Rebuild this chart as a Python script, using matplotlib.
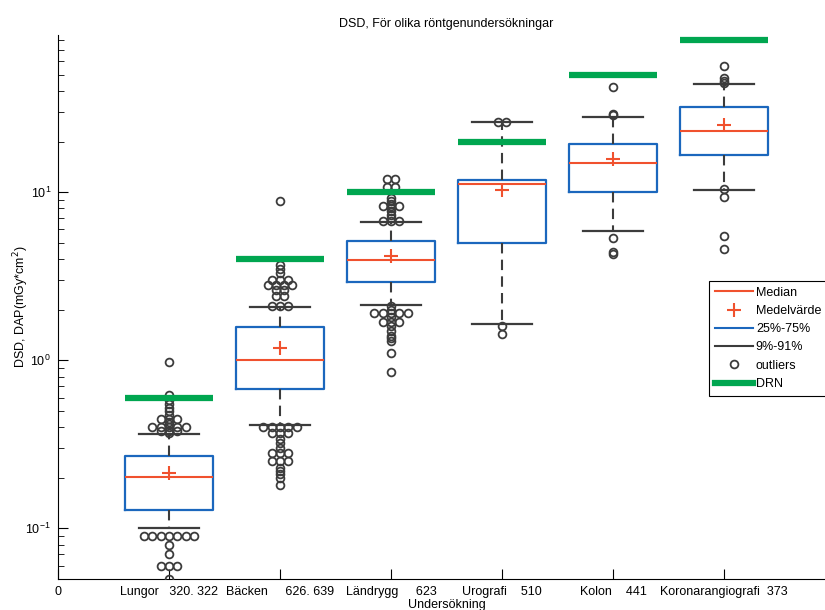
import matplotlib.pyplot as plt
from matplotlib.lines import Line2D
import numpy as np

plt.rcParams['font.family'] = ['Liberation Sans', 'DejaVu Sans']

# Undersökningar (antal i etiketten)
CATEGORIES = ["Lungor   320. 322", "Bäcken     626. 639", "Ländrygg     623",
              "Urografi    510", "Kolon    441", "Koronarangiografi  373"]

# Percentiler per undersökning
P09 = [0.100, 0.412, 2.12, 1.65, 5.86, 10.3]
Q1 = [0.129, 0.672, 2.91, 4.95, 10.0, 16.7]
MEDIAN = [0.201, 1.0, 3.94, 11.1, 14.9, 23.2]
Q3 = [0.269, 1.58, 5.13, 11.8, 19.3, 32.2]
P91 = [0.366, 2.08, 6.6, 26.2, 28.1, 44.0]
MEAN = [0.214, 1.19, 4.18, 10.3, 15.8, 25.0]
DRN = [0.6, 4.0, 10.0, 20.0, 50.0, 80.0]

OUTLIERS = [
    [0.97, 0.62, 0.58, 0.55, 0.52, 0.50, 0.47, 0.45, 0.45, 0.45, 0.43, 0.42,
     0.40, 0.40, 0.40, 0.40, 0.40, 0.38, 0.38, 0.38, 0.37,
     0.09, 0.09, 0.09, 0.09, 0.09, 0.09, 0.09, 0.08, 0.07, 0.06, 0.06, 0.06, 0.05],
    [8.8, 3.7, 3.5, 3.3, 3.0, 3.0, 3.0, 2.8, 2.8, 2.8, 2.8, 2.6, 2.6, 2.4, 2.4,
     2.1, 2.1, 2.1,
     0.40, 0.40, 0.40, 0.40, 0.40, 0.37, 0.37, 0.37, 0.34, 0.32, 0.30,
     0.28, 0.28, 0.28, 0.25, 0.25, 0.25, 0.23, 0.22, 0.21, 0.20, 0.18],
    [12.0, 12.0, 10.8, 10.8, 9.2, 8.9, 8.5, 8.3, 8.3, 8.3, 8.0, 7.7, 7.3, 7.0,
     6.7, 6.7, 6.7,
     2.1, 2.0, 1.9, 1.9, 1.9, 1.9, 1.9, 1.8, 1.7, 1.7, 1.7, 1.6, 1.5, 1.4,
     1.35, 1.3, 1.1, 0.85],
    [26.2, 26.2, 1.59, 1.44],
    [42.0, 29.0, 28.6, 5.35, 4.4, 4.3],
    [56.5, 47.5, 46.0, 44.5, 10.4, 9.3, 5.5, 4.62],
]

RED = "#f0512e"
BLUE = "#1b67bd"
DARK = "#3c3c3c"
GREEN = "#00a650"

fig = plt.figure(figsize=(8.25, 6.1), dpi=100)
ax = fig.add_axes([58 / 825, 31 / 610, 777 / 825, 544 / 610])

positions = np.arange(1, len(CATEGORIES) + 1)
stats = [dict(med=m, q1=a, q3=b, whislo=lo, whishi=hi, mean=mn, fliers=[])
         for m, a, b, lo, hi, mn in zip(MEDIAN, Q1, Q3, P09, P91, MEAN)]

ax.bxp(stats, positions=positions, widths=0.8, capwidths=0.54,
       showmeans=True, showfliers=False,
       boxprops=dict(color=BLUE, linewidth=1.6),
       medianprops=dict(color=RED, linewidth=1.5),
       whiskerprops=dict(color=DARK, linewidth=1.5, linestyle=(0, (5, 3))),
       capprops=dict(color=DARK, linewidth=1.6),
       meanprops=dict(marker='+', markeredgecolor=RED, markersize=10,
                      markeredgewidth=1.5))

# outliers: lika värden sprids ut i sidled
for pos, vals in zip(positions, OUTLIERS):
    vals = np.asarray(vals, dtype=float)
    xs = np.empty_like(vals)
    for v in np.unique(vals):
        idx = np.where(vals == v)[0]
        xs[idx] = pos + (np.arange(len(idx)) - (len(idx) - 1) / 2) * 0.075
    ax.plot(xs, vals, 'o', mfc='none', mec=DARK, ms=5.6, mew=1.3, zorder=3)

ax.hlines(DRN, positions - 0.4, positions + 0.4, colors=GREEN, linewidth=4.5, zorder=4)

ax.set_yscale('log')
ax.set_ylim(0.05, 86)
ax.set_xlim(0, 7)
ax.set_xticks(np.concatenate([[0], positions]))
ax.set_xticklabels(["0"] + CATEGORIES)
ax.tick_params(which='both', direction='in', labelsize=9)
ax.tick_params(axis='x', length=7, pad=5)
ax.tick_params(axis='y', which='major', length=7, pad=5)
ax.tick_params(axis='y', which='minor', length=4)
ax.spines['top'].set_visible(False)
ax.spines['right'].set_visible(False)

ax.set_title("DSD, För olika röntgenundersökningar", fontsize=9, pad=6)
ax.set_xlabel("Undersökning", fontsize=9, labelpad=1)
ax.set_ylabel("DSD, DAP(mGy*cm$^2$)", fontsize=9)
ax.yaxis.set_label_coords(-0.035, 0.5)

handles = [
    Line2D([], [], color=RED, linewidth=1.5),
    Line2D([], [], color=RED, linestyle='none', marker='+', markersize=10, markeredgewidth=1.5),
    Line2D([], [], color=BLUE, linewidth=1.5),
    Line2D([], [], color=DARK, linewidth=1.5),
    Line2D([], [], color=DARK, linestyle='none', marker='o', mfc='none', ms=5.6, mew=1.3),
    Line2D([], [], color=GREEN, linewidth=4.5),
]
labels = ["Median", "Medelvärde", "25%-75%", "9%-91%", "outliers", "DRN"]
leg = ax.legend(handles, labels, loc='upper left', bbox_to_anchor=(709 / 825, 1 - 281 / 610),
                bbox_transform=fig.transFigure, borderaxespad=0, fontsize=9,
                handlelength=3.1, handletextpad=0.2, labelspacing=0.5,
                borderpad=0.45, fancybox=False, framealpha=1, edgecolor='black')
leg.get_frame().set_linewidth(0.8)

fig.savefig("out.png", dpi=100, facecolor="white")
